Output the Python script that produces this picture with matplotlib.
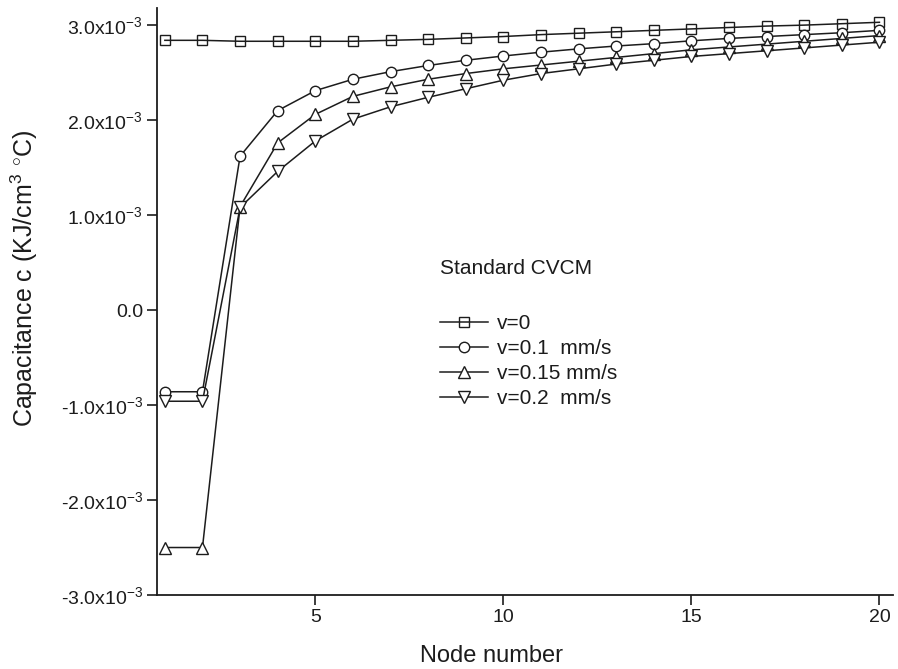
import numpy as np
import matplotlib
matplotlib.use("Agg")
import matplotlib.pyplot as plt

plt.rcParams['font.family'] = ['Liberation Sans', 'DejaVu Sans']
plt.rcParams['mathtext.fontset'] = 'custom'
plt.rcParams['mathtext.rm'] = 'Liberation Sans'
plt.rcParams['mathtext.it'] = 'Liberation Sans:italic'

# node index along the specimen
nodes = np.arange(1, 21)

# capacitance in units of 1e-3 KJ/(cm^3 C)
c_v0 = [2.84, 2.84, 2.83, 2.83, 2.83, 2.83, 2.84, 2.85, 2.865, 2.88,
        2.90, 2.915, 2.93, 2.945, 2.96, 2.975, 2.99, 3.00, 3.015, 3.03]
c_v01 = [-0.86, -0.86, 1.62, 2.10, 2.31, 2.43, 2.51, 2.575, 2.63, 2.675,
         2.715, 2.75, 2.78, 2.805, 2.835, 2.86, 2.88, 2.90, 2.92, 2.945]
c_v015 = [-2.50, -2.50, 1.09, 1.76, 2.06, 2.25, 2.35, 2.43, 2.49, 2.54,
          2.58, 2.62, 2.66, 2.70, 2.74, 2.77, 2.80, 2.83, 2.86, 2.89]
c_v02 = [-0.96, -0.96, 1.08, 1.46, 1.78, 2.01, 2.14, 2.24, 2.33, 2.42,
         2.49, 2.54, 2.59, 2.63, 2.67, 2.70, 2.73, 2.76, 2.79, 2.82]

labels = ["v=0", "v=0.1  mm/s", "v=0.15 mm/s", "v=0.2  mm/s"]
markers = ["s", "o", "^", "v"]

yticks = [-3e-3, -2e-3, -1e-3, 0.0, 1e-3, 2e-3, 3e-3]
yticklabels = [r"-3.0x10$^{-3}$", r"-2.0x10$^{-3}$", r"-1.0x10$^{-3}$", "0.0",
               r"1.0x10$^{-3}$", r"2.0x10$^{-3}$", r"3.0x10$^{-3}$"]

ink = "#1c1c1c"

fig = plt.figure(figsize=(8.98, 6.69), dpi=100)
ax = fig.add_axes([0.1748, 0.1106, 0.8196, 0.8774])

series = [c_v0, c_v01, c_v015, c_v02]
for vals, lab, mk in zip(series, labels, markers):
    face = "none" if mk == "s" else "white"
    size = 7.5 if mk in ("s", "o") else 8.5
    ax.plot(nodes, np.array(vals) * 1e-3, color=ink, lw=1.1, marker=mk,
            markersize=size, markerfacecolor=face, markeredgecolor=ink,
            markeredgewidth=1.0, label=lab)

ax.set_xlim(0.79, 20.36)
ax.set_ylim(-3.0e-3, 3.18e-3)
ax.set_xticks([5, 10, 15, 20])
ax.set_yticks(yticks)
ax.set_yticklabels(yticklabels)

for side in ("top", "right"):
    ax.spines[side].set_visible(False)
for side in ("left", "bottom"):
    ax.spines[side].set_linewidth(1.3)
    ax.spines[side].set_color(ink)

ax.tick_params(axis="both", direction="out", length=7, width=1.2,
               colors=ink, labelsize=14, pad=3)

ax.set_xlabel("Node number", fontsize=17, color=ink)
ax.xaxis.set_label_coords(0.455, -0.085)
ax.set_ylabel("Capacitance c (KJ/cm$^3$ $^{\\circ}$C)", fontsize=18, color=ink)
ax.yaxis.set_label_coords(-0.159, 0.54)

ax.text(0.3845, 0.557, "Standard CVCM", transform=ax.transAxes,
        fontsize=15, color=ink, va="center", ha="left")
ax.legend(loc="upper left", bbox_to_anchor=(0.3845, 0.4787), frameon=False,
          fontsize=15, handlelength=2.3, handletextpad=0.43, labelspacing=0.29,
          borderpad=0, borderaxespad=0, labelcolor=ink)

fig.savefig("out.png", dpi=100)
